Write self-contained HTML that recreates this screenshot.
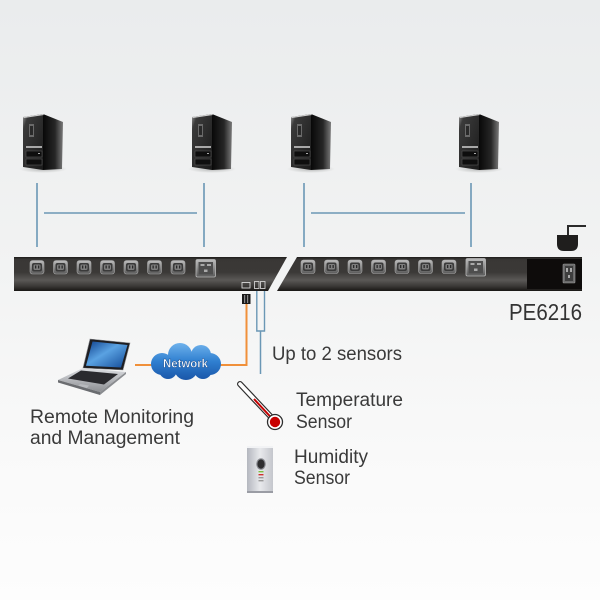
<!DOCTYPE html>
<html><head><meta charset="utf-8"><style>
html,body{margin:0;padding:0;width:600px;height:600px;overflow:hidden;background:#f6f7f7}
svg{display:block}
text{font-family:"Liberation Sans",sans-serif}
</style></head><body>
<svg width="600" height="600" viewBox="0 0 600 600" xmlns="http://www.w3.org/2000/svg">
<defs>
<linearGradient id="bg" x1="0" y1="0" x2="0" y2="1">
<stop offset="0" stop-color="#eaeced"/><stop offset="0.45" stop-color="#f2f3f3"/><stop offset="0.75" stop-color="#f9f9f9"/><stop offset="1" stop-color="#fdfdfd"/>
</linearGradient>
<linearGradient id="bar" x1="0" y1="0" x2="0" y2="1">
<stop offset="0" stop-color="#1e1c1a"/><stop offset="0.07" stop-color="#393735"/><stop offset="0.45" stop-color="#3b3937"/><stop offset="0.68" stop-color="#5a5856"/><stop offset="0.86" stop-color="#3a3836"/><stop offset="1" stop-color="#181614"/>
</linearGradient>
<linearGradient id="out" x1="0" y1="0" x2="0" y2="1">
<stop offset="0" stop-color="#bdbdbd"/><stop offset="1" stop-color="#5a5a5a"/>
</linearGradient>
<linearGradient id="side" x1="0" y1="0" x2="1" y2="0">
<stop offset="0" stop-color="#080808"/><stop offset="0.6" stop-color="#262626"/><stop offset="1" stop-color="#7a7a7a"/>
</linearGradient>
<linearGradient id="front" x1="0" y1="0" x2="1" y2="1">
<stop offset="0" stop-color="#9a9a9a"/><stop offset="0.15" stop-color="#3a3a3a"/><stop offset="1" stop-color="#1a1a1a"/>
</linearGradient>
<linearGradient id="cloud" gradientUnits="userSpaceOnUse" x1="0" y1="343" x2="0" y2="380">
<stop offset="0" stop-color="#6fb2ec"/><stop offset="0.5" stop-color="#2f7fd0"/><stop offset="1" stop-color="#1a56a8"/>
</linearGradient>
<linearGradient id="scr" x1="0" y1="0" x2="1" y2="1">
<stop offset="0" stop-color="#0d3f8c"/><stop offset="0.45" stop-color="#5aa2e2"/><stop offset="1" stop-color="#124a98"/>
</linearGradient>
<linearGradient id="lapbase" x1="0" y1="0" x2="0" y2="1">
<stop offset="0" stop-color="#dcdee2"/><stop offset="1" stop-color="#8c8e92"/>
</linearGradient>
<linearGradient id="hum" x1="0" y1="0" x2="1" y2="0">
<stop offset="0" stop-color="#b4b7bf"/><stop offset="0.5" stop-color="#e8e9ec"/><stop offset="1" stop-color="#c4c6cc"/>
</linearGradient>
<radialGradient id="shadow"><stop offset="0" stop-color="#000" stop-opacity="0.25"/><stop offset="1" stop-color="#000" stop-opacity="0"/></radialGradient>
<g id="tower">
<ellipse cx="20" cy="57" rx="24" ry="4" fill="url(#shadow)"/>
<polygon points="20,2 40,10 39,57 20,58" fill="url(#side)"/>
<polygon points="0,5 20,2 20,58 0,55" fill="url(#front)"/>
<polygon points="0,5 20,2 21,3 1,6" fill="#cfcfcf"/>
<rect x="6" y="12" width="5" height="13" fill="#6a6a6a"/>
<rect x="7" y="14" width="3" height="9" fill="#2a2a2a"/>
<rect x="3" y="34" width="16" height="2" fill="#a8a8a8"/>
<rect x="3" y="39" width="16" height="6" fill="#0e0e0e" stroke="#555" stroke-width="0.6"/>
<rect x="3" y="47" width="16" height="6" fill="#0e0e0e" stroke="#555" stroke-width="0.6"/>
<rect x="15" y="41" width="2" height="1" fill="#aaa"/>
</g>
<g id="c13">
<rect x="0" y="0" width="14" height="13.5" rx="2.5" fill="url(#out)" stroke="#a8a8a8" stroke-width="0.6"/>
<rect x="2" y="2.5" width="10" height="8.5" rx="2" fill="#3a3a3a"/>
<rect x="3.5" y="4" width="7" height="5.5" rx="1.5" fill="#7e7e7e"/>
<rect x="5" y="5" width="1.3" height="3" fill="#2a2a2a"/><rect x="8" y="5" width="1.3" height="3" fill="#2a2a2a"/>
</g>
<g id="c19">
<rect x="0" y="0" width="19.5" height="17.5" rx="1.5" fill="url(#out)" stroke="#b8b8b8" stroke-width="0.8"/>
<rect x="2.5" y="2.5" width="14.5" height="12.5" fill="#4e4e4e"/>
<rect x="4.5" y="4.5" width="4" height="2" fill="#aaa"/><rect x="11" y="4.5" width="4" height="2" fill="#aaa"/><rect x="8" y="10" width="3.5" height="2.5" fill="#aaa"/>
</g>
</defs>
<rect width="600" height="600" fill="url(#bg)"/>

<!-- towers -->
<use href="#tower" x="23" y="112"/>
<use href="#tower" x="192" y="112"/>
<use href="#tower" x="291" y="112"/>
<use href="#tower" x="459" y="112"/>

<!-- blue lines top -->
<g stroke="#6a97b5" stroke-width="1.6" fill="none">
<line x1="37" y1="183" x2="37" y2="247"/>
<line x1="204" y1="183" x2="204" y2="247"/>
<line x1="44" y1="213" x2="197" y2="213"/>
<line x1="304" y1="183" x2="304" y2="247"/>
<line x1="471" y1="183" x2="471" y2="247"/>
<line x1="311" y1="213" x2="465" y2="213"/>
</g>

<!-- ground symbol -->
<path d="M568 235 V226 H586" stroke="#2a2a2a" stroke-width="2" fill="none"/>
<path d="M557 235 H578 V244 Q578 251 571 251 H564 Q557 251 557 244 Z" fill="#1f1e1d"/>

<!-- PDU bar -->
<polygon points="14,257 287,257 268,291 14,291" fill="url(#bar)"/>
<polygon points="297,257 582,257 582,291 277,291" fill="url(#bar)"/>
<rect x="527" y="259" width="55" height="30" fill="#0e0c0b"/>
<rect x="563" y="264" width="12" height="19" rx="1" fill="#6a6a6a" stroke="#999" stroke-width="0.6"/>
<rect x="565" y="266" width="8" height="15" fill="#3e3e3e"/>
<rect x="566" y="268" width="2" height="4" fill="#aaa"/><rect x="570" y="268" width="2" height="4" fill="#aaa"/><rect x="568" y="275" width="2" height="3" fill="#aaa"/>

<use href="#c13" x="30" y="260.5"/>
<use href="#c13" x="53.5" y="260.5"/>
<use href="#c13" x="77" y="260.5"/>
<use href="#c13" x="100.5" y="260.5"/>
<use href="#c13" x="124" y="260.5"/>
<use href="#c13" x="147.5" y="260.5"/>
<use href="#c13" x="171" y="260.5"/>
<use href="#c19" x="196" y="259.5"/>
<use href="#c13" x="301" y="260"/>
<use href="#c13" x="324.5" y="260"/>
<use href="#c13" x="348" y="260"/>
<use href="#c13" x="371.5" y="260"/>
<use href="#c13" x="395" y="260"/>
<use href="#c13" x="418.5" y="260"/>
<use href="#c13" x="442" y="260"/>
<use href="#c19" x="466" y="258.5"/>

<!-- bar ports -->
<rect x="242" y="282.5" width="8" height="5.5" fill="none" stroke="#d8d8d8" stroke-width="0.9"/>
<rect x="254.5" y="281.5" width="4.5" height="7" fill="none" stroke="#d0d0d0" stroke-width="0.9"/>
<rect x="260.5" y="281.5" width="4.5" height="7" fill="none" stroke="#d0d0d0" stroke-width="0.9"/>

<!-- RJ45 connector & orange cable -->
<rect x="242" y="294" width="8.5" height="10" fill="#1a1a1a"/>
<rect x="244" y="295" width="1.2" height="8" fill="#888"/><rect x="247" y="295" width="1.2" height="8" fill="#888"/>
<path d="M246.5 304 V365 H219" stroke="#f0903a" stroke-width="2" fill="none"/>
<line x1="135" y1="365" x2="152" y2="365" stroke="#f0903a" stroke-width="2"/>

<!-- sensor cables -->
<path d="M256.8 291 V331 H264.5 V291" stroke="#6a97b5" stroke-width="1.4" fill="none"/>
<line x1="260.5" y1="331" x2="260.5" y2="374" stroke="#6a97b5" stroke-width="1.5"/>

<!-- cloud -->
<g fill="url(#cloud)">
<circle cx="162" cy="364" r="11"/>
<circle cx="180" cy="355" r="12"/>
<circle cx="201" cy="355" r="10"/>
<circle cx="210" cy="364" r="11"/>
<circle cx="186" cy="368" r="12"/>
<circle cx="168" cy="370" r="9"/>
<circle cx="203" cy="370" r="9"/>
</g>
<text x="163" y="367.5" font-size="12" font-weight="bold" fill="#fff" stroke="#1b4a8a" stroke-width="0.4" textLength="45" lengthAdjust="spacingAndGlyphs">Network</text>

<!-- laptop -->
<polygon points="90,339 130,343 123,370 83,368" fill="#1e1e22" stroke="#8a8c90" stroke-width="0.6"/>
<polygon points="92.5,341.5 127.5,345 121,367.5 86,365.8" fill="url(#scr)"/>
<polygon points="83,368 126,372 100,392 58,380" fill="url(#lapbase)"/>
<polygon points="81,370.5 118,374 104,384.5 68,378.5" fill="#2a2a2e"/>
<polygon points="80,384 89,385.5 87,388 78,386.5" fill="#b8babe"/>
<polygon points="58,380 100,392 100,395 58,382.5" fill="#6a6c70"/>
<polygon points="100,392 126,372 126,374 100,395" fill="#8a8c90"/>

<!-- thermometer -->
<line x1="240" y1="384" x2="272" y2="418" stroke="#2e2e2e" stroke-width="6" stroke-linecap="round"/>
<line x1="240" y1="384" x2="272" y2="418" stroke="#fff" stroke-width="3.6" stroke-linecap="round"/>
<line x1="254" y1="399" x2="273" y2="419.5" stroke="#c40000" stroke-width="2"/>
<circle cx="275" cy="422" r="7.5" fill="#fff" stroke="#2e2e2e" stroke-width="1.3"/>
<circle cx="275" cy="422" r="5.2" fill="#c80000"/>

<!-- humidity sensor -->
<rect x="247" y="446" width="26" height="47" rx="2" fill="url(#hum)"/>
<rect x="247" y="446" width="26" height="2" fill="#f2f3f5"/>
<rect x="247" y="491" width="26" height="2" fill="#9a9ca4"/>
<ellipse cx="261" cy="464" rx="4.8" ry="5.8" fill="#8a8c92"/>
<ellipse cx="261" cy="464" rx="3.6" ry="4.6" fill="#2e2e30"/>
<rect x="258.5" y="471" width="5" height="1.4" fill="#7cc040"/>
<rect x="258.5" y="474" width="5" height="1.4" fill="#d03030"/>
<rect x="258.5" y="477" width="5" height="1.4" fill="#9a9a9a"/>
<rect x="258.5" y="480" width="5" height="1.4" fill="#9a9a9a"/>

<!-- labels -->
<g fill="#3a3a3a" font-size="19">
<text x="272" y="360" textLength="130" lengthAdjust="spacingAndGlyphs">Up to 2 sensors</text>
<text x="296" y="406" textLength="107" lengthAdjust="spacingAndGlyphs">Temperature</text>
<text x="296" y="428" textLength="56" lengthAdjust="spacingAndGlyphs">Sensor</text>
<text x="294" y="463" textLength="74" lengthAdjust="spacingAndGlyphs">Humidity</text>
<text x="294" y="484" textLength="56" lengthAdjust="spacingAndGlyphs">Sensor</text>
<text x="30" y="423" textLength="164" lengthAdjust="spacingAndGlyphs">Remote Monitoring</text>
<text x="30" y="444" textLength="150" lengthAdjust="spacingAndGlyphs">and Management</text>
</g>
<text x="509" y="320" font-size="23" fill="#333" textLength="73" lengthAdjust="spacingAndGlyphs">PE6216</text>
</svg>
</body></html>
